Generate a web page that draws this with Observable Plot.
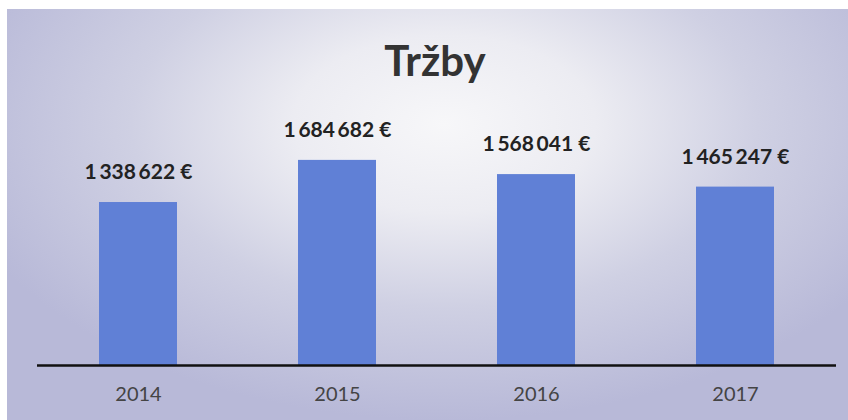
<!DOCTYPE html>
<html>
<head>
<meta charset="utf-8">
<script src="https://cdn.jsdelivr.net/npm/d3@7"></script>
<script src="https://cdn.jsdelivr.net/npm/@observablehq/plot@0.6"></script>
<style>
  html, body { margin: 0; padding: 0; background: #fff; }
  #wrap { position: relative; width: 848px; height: 420px; overflow: hidden; background: #fff; font-family: Lato, "Open Sans", sans-serif; }
  #panel { position: absolute; left: 7px; top: 9px; right: 0; bottom: 0;
    background: radial-gradient(ellipse 60% 72% at 52% 28%, #f7f7f9 0%, #ececf2 30%, #cfd0e3 62%, #b8b9d8 100%); }
  #title { position: absolute; left: 0; width: 848px; top: 39px; padding-left: 22px; box-sizing: border-box;
    text-align: center; font: bold 42px/1 Lato, sans-serif; color: #333; }
  #chart { position: absolute; left: 0; top: 100px; }
</style>
</head>
<body>
<div id="wrap">
  <div id="panel"></div>
  <div id="title">Tržby</div>
  <div id="chart"></div>
</div>
<script>
const years = ["2014", "2015", "2016", "2017"];
const revenue = [1338622, 1684682, 1568041, 1465247];

const data = years.map((y, i) => ({year: y, value: revenue[i]}));
const fmt = v => d3.format(",")(v).replace(/,/g, "\u2009") + " €";

const chart = Plot.plot({
  width: 848,
  height: 320,
  marginLeft: 37,
  marginRight: 12,
  marginTop: 21.5,
  marginBottom: 55,
  style: {background: "transparent", fontFamily: "Lato, sans-serif", fontSize: "20px", color: "#444"},
  x: {domain: years, paddingInner: 0.61, paddingOuter: 0.305, label: null},
  y: {domain: [0, 2000000], axis: null},
  marks: [
    Plot.barY(data, {x: "year", y: "value", fill: "#6080d6"}),
    Plot.ruleY([0], {stroke: "#111", strokeWidth: 2.5}),
    Plot.text(data, {x: "year", y: "value", text: d => fmt(d.value), dy: -30,
      fontSize: 21, fontWeight: "bold", fill: "#222"}),
    Plot.axisX({tickSize: 0, tickPadding: 21, fill: "#444"})
  ]
});
document.getElementById("chart").appendChild(chart);
</script>
</body>
</html>
